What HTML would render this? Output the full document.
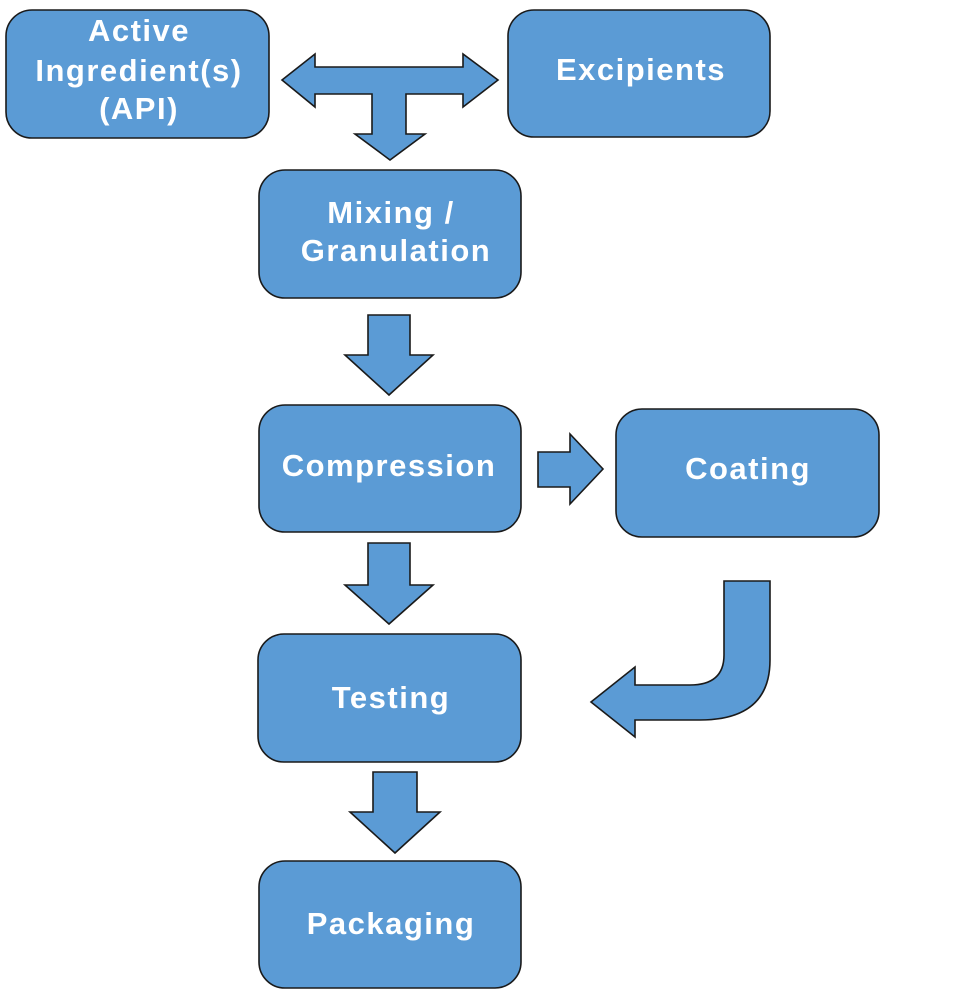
<!DOCTYPE html>
<html><head><meta charset="utf-8"><style>
html,body{margin:0;padding:0;background:#fff;}
svg{display:block}
text{font-family:"Liberation Sans",sans-serif;font-weight:bold;font-size:31px;letter-spacing:1.5px;fill:#fff;text-anchor:middle}
</style></head><body>
<svg width="977" height="990" viewBox="0 0 977 990" xmlns="http://www.w3.org/2000/svg">
<g fill="#5b9bd5" stroke="#1a1a1a" stroke-width="1.6">
<rect x="6" y="10" width="263" height="128" rx="26"/>
<rect x="508" y="10" width="262" height="127" rx="26"/>
<rect x="259" y="170" width="262" height="128" rx="26"/>
<rect x="259" y="405" width="262" height="127" rx="26"/>
<rect x="616" y="409" width="263" height="128" rx="26"/>
<rect x="258" y="634" width="263" height="128" rx="26"/>
<rect x="259" y="861" width="262" height="127" rx="26"/>
<path d="M282 80 L315 54 L315 67 L463 67 L463 54 L498 80 L463 107 L463 94 L406 94 L406 134 L425 134 L390 160 L355 134 L372 134 L372 94 L315 94 L315 107 Z"/>
<path d="M368 315 L410 315 L410 355 L433 355 L389 395 L345 355 L368 355 Z"/>
<path d="M538 452 L570 452 L570 434 L603 469 L570 504 L570 487 L538 487 Z"/>
<path d="M368 543 L410 543 L410 585 L433 585 L389 624 L345 585 L368 585 Z"/>
<path d="M373 772 L417 772 L417 812 L440 812 L395 853 L350 812 L373 812 Z"/>
<path d="M724 581 L770 581 L770 660 Q770 720 700 720 L635 720 L635 737 L591 702 L635 667 L635 685 L690 685 Q724 685 724 655 Z"/>
</g>
<text x="139" y="41">Active</text>
<text x="139" y="81">Ingredient(s)</text>
<text x="139" y="119">(API)</text>
<text x="641" y="80">Excipients</text>
<text x="391" y="223">Mixing /</text>
<text x="396" y="261">Granulation</text>
<text x="389" y="476">Compression</text>
<text x="748" y="479">Coating</text>
<text x="391" y="708">Testing</text>
<text x="391" y="934">Packaging</text>
</svg>
</body></html>
